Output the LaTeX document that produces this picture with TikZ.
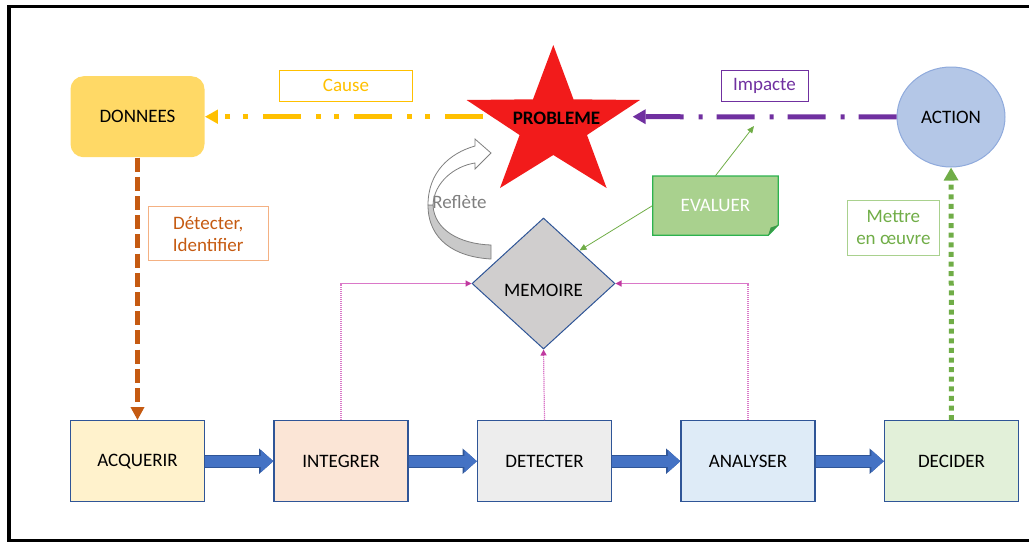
\documentclass[tikz,border=0pt]{standalone}
\usepackage{fontspec}
\setmainfont{Carlito}
\usetikzlibrary{shapes.geometric,arrows.meta}

\definecolor{bordbleu}{HTML}{2F5597}
\definecolor{acqfond}{HTML}{FFF2CC}
\definecolor{intfond}{HTML}{FBE5D6}
\definecolor{detfond}{HTML}{EDEDED}
\definecolor{anafond}{HTML}{DEEBF7}
\definecolor{decfond}{HTML}{E2F0D9}
\definecolor{bleuflux}{HTML}{4472C4}
\definecolor{donfond}{HTML}{FFD966}
\definecolor{jaune}{HTML}{FFC000}
\definecolor{violet}{HTML}{7030A0}
\definecolor{orange}{HTML}{C55A11}
\definecolor{orangeclair}{HTML}{F4B183}
\definecolor{vert}{HTML}{70AD47}
\definecolor{vertclair}{HTML}{A9D18E}
\definecolor{evalbord}{HTML}{2DB24F}
\definecolor{evalpli}{HTML}{3A9A48}
\definecolor{actfond}{HTML}{B4C7E7}
\definecolor{actbord}{HTML}{8FAADC}
\definecolor{memfond}{HTML}{D0CECE}
\definecolor{rose}{HTML}{DA78C8}
\definecolor{rosefonce}{HTML}{C0399F}
\definecolor{gris}{HTML}{7F7F7F}
\definecolor{grisfond}{HTML}{C9C9C9}
\definecolor{rouge}{HTML}{F21B1B}

\tikzset{
  every node/.style={font=\fontsize{9.5}{11}\selectfont},
  etape/.style={draw=bordbleu, line width=0.6pt, minimum width=67pt, minimum height=40.5pt, inner sep=0pt},
  etiquette/.style={draw, line width=0.5pt, inner sep=0pt, align=center},
  fleche/.style={preaction={draw=bordbleu, line width=6.3pt, -{Triangle[length=7.2pt,width=12.3pt]}},
    line width=5.3pt, bleuflux, -{Triangle[length=6.3pt,width=10.8pt]}},
  memlien/.style={rose, line width=0.6pt, dash pattern=on 0.6pt off 0.4pt, -{Triangle[length=3pt,width=3pt,color=rosefonce]}},
  evallien/.style={vert, line width=0.4pt, -{Triangle[length=3.5pt,width=3pt]}},
}

\begin{document}
\begin{tikzpicture}[x=0.5pt, y=-0.5pt]
\useasboundingbox (0,0) rectangle (1029,542);
% cadre
\draw[line width=1.75pt] (1029,6.5) -- (8.8,6.5) -- (8.8,540.5) -- (1029,540.5);

% chaine du bas
\node[etape, fill=acqfond] (acq) at (137.5,461.2) {ACQUERIR};
\node[etape, fill=intfond] (int) at (341,461.2) {INTEGRER};
\node[etape, fill=detfond] (det) at (544.5,461.2) {DETECTER};
\node[etape, fill=anafond] (ana) at (748,461.2) {ANALYSER};
\node[etape, fill=decfond] (dec) at (951.5,461.2) {DECIDER};
\foreach \a/\b in {acq/int, int/det, det/ana, ana/dec}
  \draw[fleche] (\a) -- (\b);

% haut
\node[fill=donfond, rounded corners=6.5pt, minimum width=67pt, minimum height=40.5pt] (don) at (137.5,116.7) {DONNEES};
\node[ellipse, fill=actfond, draw=actbord, line width=0.5pt, minimum width=54pt, minimum height=50pt] (act) at (951,117) {ACTION};
\node[diamond, aspect=1.09, fill=memfond, draw=bordbleu, line width=0.5pt, minimum width=71.5pt, minimum height=65.5pt, inner sep=0pt] (mem) at (543.5,283.5) {\raisebox{-6.3pt}[0pt][0pt]{MEMOIRE}};

% etiquettes
\node[etiquette, draw=jaune, text=jaune, minimum width=66.5pt, minimum height=15.5pt] (cause) at (346,85.8) {Cause};
\node[etiquette, draw=violet, text=violet, minimum width=43.5pt, minimum height=15.5pt] (impacte) at (764.5,85.7) {Impacte};
\node[etiquette, draw=orangeclair, text=orange, minimum width=60pt, minimum height=27pt] (ident) at (208.2,233.8) {Détecter,\\Identifier};
\node[etiquette, draw=vertclair, text=vert, minimum width=46pt, minimum height=27.5pt] (mettre) at (893.4,227.8) {Mettre\\en œuvre};

% liens
\coordinate (probW) at (483,116.7);
\coordinate (probE) at (632.6,116.7);
\draw[jaune, line width=2.5pt, dash pattern=on 19pt off 7.5pt on 2.5pt off 6.5pt on 2.5pt off 7.5pt, -{Triangle[length=6.5pt,width=6.7pt]}] (probW) -- (don);
\draw[violet, line width=2.5pt, dash pattern=on 19pt off 7pt on 2pt off 7.5pt, -{Triangle[length=6.5pt,width=7pt]}] (act) -- (probE);
\draw[orange, line width=2.5pt, dash pattern=on 7pt off 2.6pt, -{Triangle[length=6.5pt,width=6.5pt]}] (don) -- (acq);
\draw[vert, line width=2.5pt, dash pattern=on 2.5pt off 2.3pt, -{Triangle[length=6.5pt,width=7pt]}] (dec) -- (act);
\draw[memlien] (int.north) |- (mem.west);
\draw[memlien] (det.north) -- (mem.south);
\draw[memlien] (ana.north) |- (mem.east);

% probleme
\fill[rouge] (553.3,45) -- (573.5,99.3) -- (640,100) -- (587,135) -- (606.6,188) -- (553.3,155) -- (500,188) -- (519.6,135) -- (466.6,100) -- (533,99.3) -- cycle;
\node[font=\fontsize{9.5}{11}\selectfont\bfseries] (prob) at (556.5,118) {PROBLEME};

% evaluer
\filldraw[fill=vertclair, draw=evalbord, line width=0.6pt] (652.8,176) -- (778.3,176) -- (778.3,225) -- (768.2,235.3) -- (652.8,235.3) -- cycle;
\fill[evalpli] (778.3,225) -- (768.2,235.3) -- (770.6,227.6) -- cycle;
\node[text=white, minimum width=62.7pt, minimum height=29.6pt, inner sep=0pt] (eval) at (715.5,205.7) {EVALUER};
\coordinate (impA) at (754,126);
\draw[evallien] (eval.north) -- (impA);
\draw[evallien] (eval.west) -- (mem.north east);

% reflete
\filldraw[fill=grisfond, draw=gris, line width=0.4pt] (491,259) .. controls (455,257) and (428,240) .. (428,205) -- (433,205) .. controls (434,230) and (460,244) .. (491,245) -- cycle;
\filldraw[fill=white, draw=gris, line width=0.4pt] (428,205) .. controls (428,172) and (450,153) .. (475,146) -- (475,139) -- (491,153) -- (475,169) -- (475,163) .. controls (455,166) and (434,182) .. (433,205) -- cycle;
\node[text=gris] (refl) at (459.5,202) {Reflète};

\end{tikzpicture}
\end{document}
